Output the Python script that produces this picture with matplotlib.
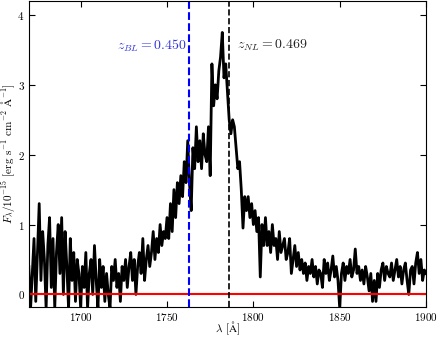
import matplotlib
matplotlib.use("Agg")
import matplotlib.pyplot as plt
import numpy as np

# wavelength grid start and step (Angstrom), flux in 1e-15 erg/s/cm2/A
WAVE_START = 1670.0
WAVE_STEP = 1.0
FLUX = [
    0.4, -0.2, 0.3, 0.8, -0.1, 0.6, 1.3, 0.2, 0.9, 0.5,
    -0.2, 0.7, 1.1, 0.1, 0.8, -0.2, 0.6, 1.0, 0.3, 1.1,
    0.0, 0.9, 0.4, -0.2, 0.8, 0.2, 0.6, -0.1, 0.5, 0.3,
    -0.2, 0.4, 0.1, 0.6, -0.2, 0.3, 0.5, 0.0, 0.7, 0.2,
    -0.2, 0.5, 0.1, 0.4, -0.1, 0.3, 0.0, -0.2, 0.4, 0.2,
    0.5, 0.1, 0.3, -0.1, 0.4, 0.2, 0.5, 0.1, 0.4, 0.6,
    0.2, 0.5, 0.0, 0.4, 0.6, 0.3, 0.8, 0.2, 0.5, 0.7,
    0.4, 0.6, 0.9, 0.5, 0.8, 0.6, 1.0, 0.7, 0.9, 0.8,
    1.1, 0.8, 1.3, 0.9, 1.5, 1.1, 1.6, 1.3, 1.7, 1.4,
    1.9, 1.6, 2.2, 1.6, 1.2, 2.1, 1.8, 2.4, 1.9, 2.2,
    1.8, 2.3, 2.0, 1.9, 2.4, 1.7, 3.3, 2.7, 3.0, 2.8,
    3.2, 3.4, 3.75, 3.1, 3.3, 2.9, 2.5, 2.3, 2.5, 2.4,
    2.1, 1.8, 1.9, 1.5, 0.95, 1.4, 1.2, 1.4, 1.1, 1.3,
    1.0, 1.2, 0.9, 1.1, 0.25, 1.0, 0.7, 1.1, 0.7, 0.9,
    0.6, 1.0, 0.7, 0.8, 0.5, 0.9, 0.6, 0.7, 0.8, 0.5,
    0.6, 0.8, 0.3, 0.5, 0.7, 0.4, 0.6, 0.35, 0.5, 0.3,
    0.45, 0.2, 0.4, 0.3, 0.5, 0.25, 0.4, 0.15, 0.35, 0.3,
    0.1, 0.5, 0.3, 0.45, 0.2, 0.35, 0.55, 0.25, 0.4, 0.2,
    -0.2, 0.3, 0.45, 0.2, 0.4, 0.3, 0.5, 0.25, 0.35, 0.65,
    0.3, 0.4, 0.2, 0.35, 0.15, 0.4, 0.25, 0.05, 0.3, -0.1,
    0.2, -0.1, 0.3, 0.1, 0.35, 0.45, 0.2, 0.4, 0.3, 0.25,
    0.45, 0.2, 0.35, 0.5, 0.25, 0.4, 0.15, 0.35, 0.45, 0.2,
    0.0, 0.35, 0.4, 0.15, 0.45, 0.6, 0.3, 0.5, 0.2, 0.35,
    0.3,
]

LYA = 1215.67
Z_BL = 0.450
Z_NL = 0.469

plt.rcParams["font.family"] = "serif"
plt.rcParams["font.serif"] = ["cmr10", "DejaVu Serif"]
plt.rcParams["mathtext.fontset"] = "cm"
plt.rcParams["axes.formatter.use_mathtext"] = True

wave = WAVE_START + WAVE_STEP * np.arange(len(FLUX))

fig = plt.figure(figsize=(4.37, 3.37), dpi=100)
ax = fig.add_axes([0.066, 0.089, 0.909, 0.908])

ax.plot(wave, FLUX, color="black", lw=2.0)
ax.axhline(0, color="red", lw=1.5)
ax.axvline(LYA * (1 + Z_BL), color="blue", ls="--", lw=1.5)
ax.axvline(LYA * (1 + Z_NL), color="black", ls="--", lw=1.2)

ax.text(LYA * (1 + Z_BL) - 1, 3.56, r"$z_{BL}=%.3f$" % Z_BL, color="#3333dd",
        ha="right", va="center", fontsize=10)
ax.text(LYA * (1 + Z_NL) + 4.5, 3.56, r"$z_{NL}=%.3f$" % Z_NL, color="#222222",
        ha="left", va="center", fontsize=10)

ax.set_xlim(1670, 1900)
ax.set_ylim(-0.18, 4.2)
ax.set_xticks([1700, 1750, 1800, 1850, 1900])
ax.set_yticks([0, 1, 2, 3, 4])
ax.tick_params(direction="in", top=True, right=True, labelsize=8, length=4, pad=3)
ax.set_xlabel(r"$\lambda$ [$\mathrm{\AA}$]", fontsize=8)
ax.set_ylabel(r"$F_{\lambda}/10^{-15}$ [erg s$^{-1}$ cm$^{-2}$ $\mathrm{\AA}^{-1}$]",
              fontsize=8)
ax.xaxis.set_label_coords(0.5, -0.04)
ax.yaxis.set_label_coords(-0.03, 0.5)

fig.savefig("out.png", dpi=100)
